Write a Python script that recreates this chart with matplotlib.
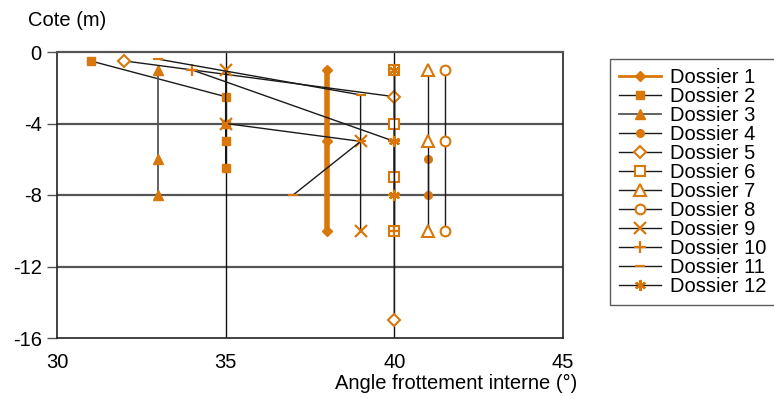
import matplotlib
matplotlib.use("Agg")
import matplotlib.pyplot as plt

plt.rcParams['font.family'] = ['Liberation Sans', 'DejaVu Sans']
plt.rcParams['axes.unicode_minus'] = False

ORANGE = '#d9770b'

# data (angle, cote)
d1_x = [38, 38, 38];            d1_y = [-1, -5, -10]
d2_x = [31, 35, 35, 35, 35];    d2_y = [-0.5, -2.5, -4, -5, -6.5]
d3_x = [33, 33, 33];            d3_y = [-1, -6, -8]
d4_x = [41, 41];                d4_y = [-6, -8]
d5_x = [32, 40, 40];            d5_y = [-0.5, -2.5, -15]
d6_x = [40, 40, 40, 40];        d6_y = [-1, -4, -7, -10]
d7_x = [41, 41, 41];            d7_y = [-1, -5, -10]
d8_x = [41.5, 41.5, 41.5];      d8_y = [-1, -5, -10]
d9_x = [35, 35, 39, 39];        d9_y = [-1, -4, -5, -10]
d10_x = [34, 40, 40, 40];       d10_y = [-1, -5, -8, -10]
d11_x = [33, 39, 39, 37];       d11_y = [-0.4, -2.4, -5, -8]
d12_x = [40, 40, 40];           d12_y = [-1, -5, -8]

labels = ['Dossier %d' % i for i in range(1, 13)]

FS = 14.5

fig = plt.figure(figsize=(7.74, 3.99), dpi=100)
ax = fig.add_axes([57/774, 1-338/399, (563-57)/774, (338-52)/399])

# grid
for yv in [-4, -8, -12]:
    ax.axhline(yv, color='#555555', lw=1.6, zorder=0)
for xv in [35, 40]:
    ax.axvline(xv, color='#111111', lw=1.0, zorder=0)

lw = 1.0
ms = 5.5
k = '#1a1a1a'
ax.plot(d1_x, d1_y, color=ORANGE, lw=4, marker='D', ms=5, mfc=ORANGE, mec=ORANGE, label=labels[0])
ax.plot(d2_x, d2_y, color=k, lw=lw, marker='s', ms=ms, mfc=ORANGE, mec=ORANGE, label=labels[1])
ax.plot(d3_x, d3_y, color='#555555', lw=1.3, marker='^', ms=7, mfc=ORANGE, mec=ORANGE, label=labels[2])
ax.plot(d4_x, d4_y, color=k, lw=lw, marker='o', ms=5.5, mfc=ORANGE, mec=ORANGE, label=labels[3])
ax.plot(d5_x, d5_y, color=k, lw=lw, marker='D', ms=6, mfc='white', mec=ORANGE, mew=1.5, label=labels[4])
ax.plot(d6_x, d6_y, color=k, lw=lw, marker='s', ms=6.5, mfc='white', mec=ORANGE, mew=1.5, label=labels[5])
ax.plot(d7_x, d7_y, color=k, lw=lw, marker='^', ms=8, mfc='white', mec=ORANGE, mew=1.5, label=labels[6])
ax.plot(d8_x, d8_y, color=k, lw=lw, marker='o', ms=7, mfc='white', mec=ORANGE, mew=1.5, label=labels[7])
ax.plot(d9_x, d9_y, color=k, lw=lw, marker='x', ms=8, mec=ORANGE, mew=1.6, label=labels[8])
ax.plot(d10_x, d10_y, color=k, lw=lw, marker='+', ms=8, mec=ORANGE, mew=1.6, label=labels[9])
ax.plot(d11_x, d11_y, color=k, lw=lw, marker='_', ms=7, mec=ORANGE, mew=1.6, label=labels[10])
ax.plot(d12_x, d12_y, color=k, lw=lw, marker=(6, 2, 0), ms=8, mec=ORANGE, mew=1.6, label=labels[11])

ax.set_xlim(30, 45)
ax.set_ylim(-16, 0)
ax.set_xticks([30, 35, 40, 45])
ax.set_yticks([0, -4, -8, -12, -16])
ax.tick_params(axis='x', length=0, pad=11, labelsize=FS)
ax.tick_params(axis='y', length=7, width=1, color='#555555', pad=4, labelsize=FS, direction='out')
for s in ['left', 'right', 'bottom']:
    ax.spines[s].set_color('#222222')
    ax.spines[s].set_linewidth(1.2)
ax.spines['top'].set_color('#555555')
ax.spines['top'].set_linewidth(1.6)

fig.text(28/774, 1-20/399, 'Cote (m)', fontsize=FS, va='center', ha='left')
fig.text(577/774, 1-383/399, 'Angle frottement interne (°)', fontsize=FS, va='center', ha='right')

leg = ax.legend(loc='upper left', bbox_to_anchor=(610/774, 1-59/399), bbox_transform=fig.transFigure,
                fontsize=FS, frameon=True, fancybox=False, handlelength=2.1, handletextpad=0.45,
                labelspacing=0.0, borderpad=0.45, borderaxespad=0)
leg.get_frame().set_edgecolor('#333333')
leg.get_frame().set_linewidth(1.0)
leg.get_lines()[0].set_linewidth(2)

fig.savefig('out.png', dpi=100)
